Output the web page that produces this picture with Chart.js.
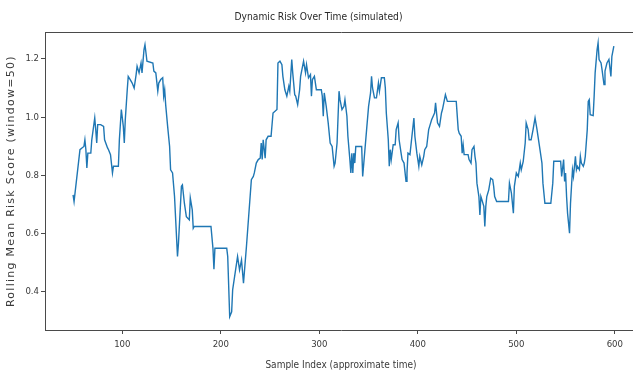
<!DOCTYPE html>
<html><head><meta charset="utf-8">
<script src="https://cdn.jsdelivr.net/npm/chart.js@4.4.1/dist/chart.umd.min.js"></script>
<style>
html,body{margin:0;padding:0;background:#fff;overflow:hidden;width:633px;height:376px}
#wrap{width:637px;height:376px}
</style></head>
<body><div id="wrap"><canvas id="c" width="637" height="376"></canvas></div>
<script>
const sampleIndex = [50,51,57,59,61,62,63,64,65,68,69,72,73,74,75,78,81,82,85,86,88,90,91,96,97,99,101,102,103,105,106,108,110,112,114,115,117,119,120,122,
123,124,125,131,132,134,136,137,139,141,142,143,144,146,148,149,151,153,155,156,157,160,161,163,165,168,169,171,172,173,190,192,193,194,206,207,209,211,212,216,217,219,221,223,
226,231,233,234,236,238,240,241,242,243,245,246,248,251,253,257,258,260,262,263,265,267,269,270,272,273,275,276,278,280,281,284,286,287,289,291,292,293,295,297,302,303,304,305,307,309,311,313,315,316,318,320,321,323,
325,326,328,329,331,332,333,334,335,336,337,343,344,348,350,352,353,354,356,358,360,361,363,366,367,368,370,371,372,373,375,377,378,380,381,383,384,386,388,389,390,392,394,396,397,399,400,401,402,404,406,407,409,411,412,414,417,418,420,422,424,425,427,
428,430,439,441,442,444,445,446,447,451,452,454,455,457,458,459,460,462,463,464,465,467,468,469,470,472,474,476,477,478,480,492,493,495,497,498,500,502,504,505,507,509,510,512,513,515,517,519,521,
522,524,526,527,529,535,537,538,545,546,548,549,550,551,552,554,555,556,557,558,560,561,562,564,565,566,568,569,570,572,573,574,575,578,579,580,582,583,584,586,587,589,590,592,594,596,597,599];
const rollingRisk = [0.733,0.710,0.888,0.894,0.899,0.922,0.888,0.825,0.876,0.876,0.922,0.997,0.957,0.911,0.974,0.974,0.968,0.922,0.894,0.888,0.871,0.808,0.831,0.831,0.922,1.026,0.968,0.911,0.991,1.094,1.140,1.129,1.117,1.100,1.146,1.175,1.152,1.186,1.152,1.232,
1.249,1.221,1.192,1.186,1.158,1.152,1.089,1.117,1.129,1.135,1.072,1.094,1.043,0.968,0.899,0.819,0.808,0.727,0.590,0.521,0.567,0.762,0.767,0.704,0.658,0.647,0.722,0.681,0.618,0.624,0.624,0.549,0.477,0.549,0.549,0.521,0.314,0.331,0.406,0.498,0.521,0.475,0.509,0.429,
0.555,0.785,0.796,0.808,0.842,0.854,0.859,0.911,0.854,0.922,0.859,0.922,0.934,0.934,1.014,1.026,1.186,1.192,1.180,1.140,1.094,1.072,1.106,1.089,1.198,1.152,1.077,1.072,1.043,1.094,1.140,1.192,1.152,1.180,1.135,1.146,1.072,1.129,1.140,1.094,1.094,1.072,1.003,1.083,1.037,0.980,0.911,0.899,0.831,0.842,0.911,1.089,1.060,1.026,
1.037,1.060,1.003,0.934,0.854,0.808,0.876,0.808,0.876,0.842,0.899,0.899,0.796,0.957,1.037,1.083,1.140,1.100,1.066,1.066,1.117,1.089,1.135,1.135,1.100,1.014,0.922,0.831,0.888,0.854,0.905,0.905,0.957,0.980,0.922,0.876,0.854,0.842,0.779,0.808,0.876,0.871,0.934,0.997,0.934,0.876,0.854,0.831,0.865,0.836,0.865,0.888,0.899,0.957,0.968,0.991,1.014,1.049,0.980,0.968,1.014,1.026,1.060,
1.077,1.054,1.054,0.957,0.945,0.934,0.876,0.905,0.871,0.871,0.854,0.842,0.888,0.899,0.865,0.842,0.773,0.727,0.664,0.727,0.716,0.693,0.624,0.693,0.727,0.750,0.790,0.785,0.762,0.727,0.710,0.710,0.773,0.739,0.670,0.762,0.808,0.796,0.842,0.819,0.848,0.911,0.980,0.957,0.922,0.922,0.957,0.997,0.957,
0.934,0.888,0.842,0.773,0.704,0.704,0.773,0.848,0.848,0.796,0.854,0.779,0.808,0.727,0.670,0.601,0.704,0.762,0.819,0.796,0.865,0.819,0.831,0.819,0.865,0.842,0.831,0.842,0.865,0.957,1.054,1.060,1.008,1.005,1.072,1.152,1.232,1.255,1.198,1.186,1.163,1.112,1.158,1.186,1.198,1.140,1.209,1.244];
const xTickValues = [100,200,300,400,500,600];
const yTickValues = [0.4,0.6,0.8,1.0,1.2];
const chartTitle = 'Dynamic Risk Over Time (simulated)';
const xTitle = 'Sample Index (approximate time)';
const yTitle = 'Rolling Mean Risk Score (window=50)';

const points = sampleIndex.map((x, k) => ({x: x, y: rollingRisk[k]}));
const narrow = "'DejaVu Sans Condensed','Liberation Sans Narrow','Liberation Sans',sans-serif";
const spine = '#4a4a4a';
const textCol = '#3a3a3a';

new Chart(document.getElementById('c'), {
  type: 'line',
  data: { datasets: [{ data: points, borderColor: '#1f77b4', borderWidth: 1.4, pointRadius: 0, fill: false, tension: 0 }] },
  options: {
    responsive: false, animation: false,
    layout: { padding: 0 },
    plugins: {
      legend: { display: false }, tooltip: { enabled: false },
      title: { display: true, text: chartTitle, color: '#2a2a2a', font: { family: narrow, size: 10.2, weight: 'normal' }, padding: { top: 11, bottom: 0 } }
    },
    scales: {
      x: {
        type: 'linear', position: 'bottom', min: 21.5, max: 622.5,
        afterBuildTicks: s => { s.ticks = xTickValues.map(v => ({value: v})); },
        afterFit: s => { s.height = 46; },
        ticks: { color: textCol, font: { family: narrow, size: 9.5 }, padding: 5, maxRotation: 0, callback: v => String(v) },
        grid: { drawOnChartArea: false, drawTicks: true, tickLength: 4, color: spine },
        border: { display: true, color: spine, width: 1 },
        title: { display: true, text: xTitle, color: textCol, font: { family: narrow, size: 10 }, padding: { top: 0, bottom: 5 } }
      },
      x2: {
        type: 'linear', axis: 'x', position: 'top', min: 21.5, max: 622.5,
        afterBuildTicks: s => { s.ticks = []; },
        afterFit: s => { s.height = 9; },
        ticks: { display: false },
        grid: { drawOnChartArea: false, drawTicks: false, color: spine },
        border: { display: true, color: spine, width: 1 },
        title: { display: false }
      },
      y: {
        type: 'linear', position: 'left', min: 0.2683, max: 1.2916,
        afterBuildTicks: s => { s.ticks = yTickValues.map(v => ({value: v})); },
        afterFit: s => {
          s.width = 45;
          if (!s.__spaced) {
            s.__spaced = true;
            const orig = s.drawTitle;
            s.drawTitle = function () { const c = this.ctx; c.save(); c.letterSpacing = '1.25px'; orig.call(this); c.restore(); };
          }
        },
        ticks: { color: textCol, font: { family: narrow, size: 9.5 }, padding: 2, callback: v => Number(v).toFixed(1) },
        grid: { drawOnChartArea: false, drawTicks: true, tickLength: 4, color: spine },
        border: { display: true, color: spine, width: 1 },
        title: { display: true, text: yTitle, color: textCol, font: { family: "'DejaVu Sans',sans-serif", size: 11 }, padding: { top: 5, bottom: 0 } }
      }
    }
  }
});
</script>
</body></html>
